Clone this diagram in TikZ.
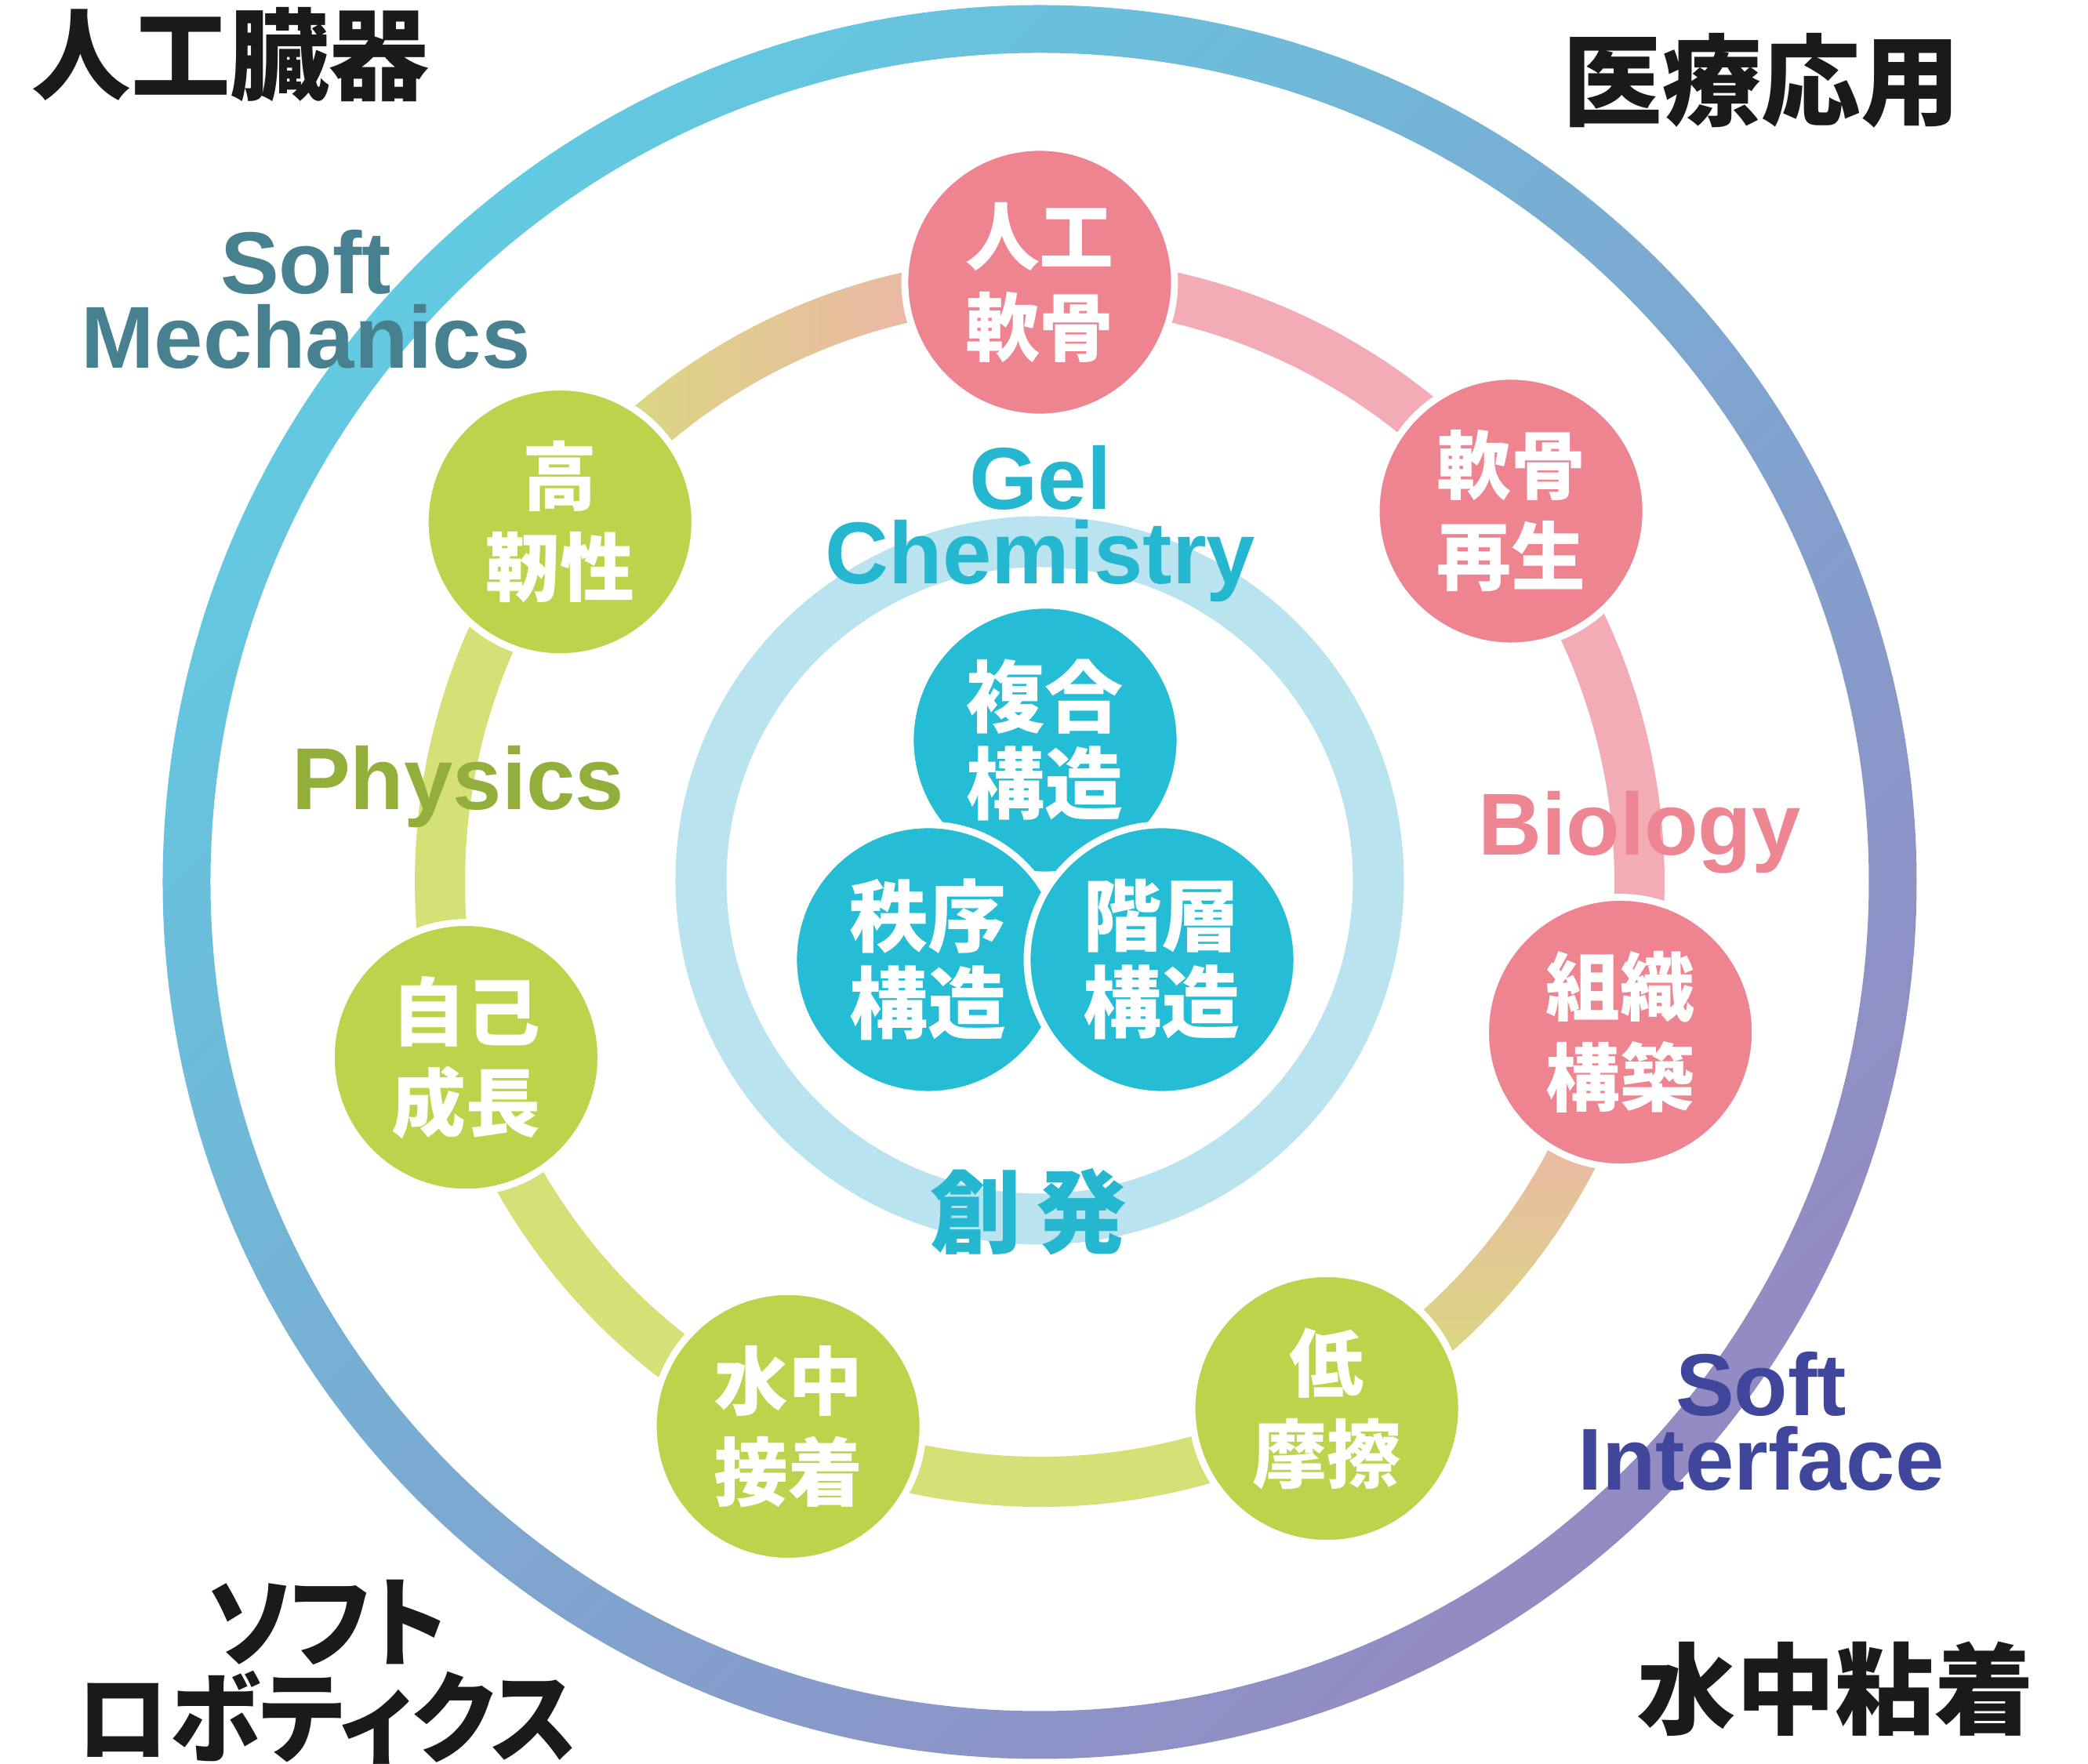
\documentclass[tikz,border=0pt]{standalone}
\usepackage{fontspec}
\usetikzlibrary{backgrounds}

\newfontfamily\jpfont{Noto Sans CJK JP}
\newfontfamily\jppfont{Noto Sans CJK JP}[RawFeature={+palt}]
\newfontfamily\jpkfont{Noto Sans CJK JP}[RawFeature={+palt}, FakeStretch=0.92]
\newfontfamily\enfont{Liberation Sans}

\definecolor{ringcyan}{HTML}{62CAE1}
\definecolor{ringpurple}{HTML}{948AC2}
\definecolor{nodepink}{HTML}{EE8490}
\definecolor{bandpink}{HTML}{F3ABB6}
\definecolor{nodegreen}{HTML}{BDD34B}
\definecolor{bandgreen}{HTML}{D5E077}
\definecolor{gelteal}{HTML}{24BDD5}
\definecolor{gelring}{HTML}{B9E3EF}
\definecolor{geltext}{HTML}{25B6D0}
\definecolor{mechtext}{HTML}{47818F}
\definecolor{phystext}{HTML}{93AF3B}
\definecolor{biotext}{HTML}{EE8593}
\definecolor{intftext}{HTML}{3F469C}
\definecolor{inkblack}{HTML}{1A1A1A}

\tikzset{
  dot/.style={circle, draw=white, line width=2.5pt, minimum size=3.44cm,
    inner sep=0pt, text=white, align=center},
  pinkdot/.style={dot, fill=nodepink, font=\jpfont\bfseries\fontsize{27}{33}\selectfont},
  greendot/.style={dot, fill=nodegreen, font=\jpfont\bfseries\fontsize{27}{33}\selectfont},
  geldot/.style={dot, fill=gelteal, font=\jpfont\bfseries\fontsize{28.5}{31.6}\selectfont},
  band/.style={line width=18.2pt},
  field/.style={font=\enfont\bfseries\fontsize{31.9}{27}\selectfont, align=center},
  corner/.style={text=inkblack, font=\jppfont\bfseries\fontsize{36}{34.7}\selectfont, align=center}
}

\begin{document}
\begin{tikzpicture}
\useasboundingbox (-13.26,-11.25) rectangle (13.37,11.25);

% outer ring and gel ring
\shade[left color=ringcyan, right color=ringpurple, shading angle=45, even odd rule]
  (0,0) circle (11.185) (0,0) circle (10.575);
\draw[gelring, line width=18.5pt] (0,0.02) circle (4.32);

% seven topics on the middle ring
\node[pinkdot] (rk) at (90:7.65) {人工\\軟骨};
\node[pinkdot] (nsk) at (38.2:7.65) {軟骨\\再生};
\node[pinkdot] (sk) at (-14.5:7.65) {組織\\構築};
\node[greendot] (tm) at (-61.4:7.65) {低\\摩擦};
\node[greendot] (sc) at (-114.8:7.65) {水中\\接着};
\node[greendot] (jg) at (197:7.65) {自己\\成長};
\node[greendot] (kj) at (143.1:7.65) {高\\靭性};

\begin{pgfonlayer}{background}
\draw[band, bandpink] (rk.center) arc[start angle=90, end angle=-14.5, radius=7.65];
\draw[band, bandgreen] (tm.center) arc[start angle=-61.4, end angle=-216.9, radius=7.65];
\shade[top color=bandpink, bottom color=bandgreen]
  (sk.center) ++(-14.5:-0.32) arc[start angle=-14.5, end angle=-61.4, radius=7.33]
  -- ++(-61.4:0.64) arc[start angle=-61.4, end angle=-14.5, radius=7.97] -- cycle;
\shade[left color=bandgreen, right color=bandpink]
  (kj.center) ++(143.1:-0.32) arc[start angle=143.1, end angle=90, radius=7.33]
  -- ++(0,0.64) arc[start angle=90, end angle=143.1, radius=7.97] -- cycle;
\end{pgfonlayer}

% gel chemistry core
\node[geldot] (fk) at (0.07,1.81) {複合\\構造};
\node[geldot] (cj) at (-1.42,-0.99) {秩序\\構造};
\node[geldot] (ks) at (1.56,-0.99) {階層\\構造};

% field labels
\node[field, text=mechtext] (mech) at (-9.36,7.43) {Soft\\Mechanics};
\node[field, text=geltext] (gel) at (0.01,4.57) {Gel\\Chemistry};
\node[field, text=phystext, anchor=base] (phys) at (-7.42,0.92) {Physics};
\node[field, text=biotext, anchor=base] (bio) at (7.65,0.34) {Biology};
\node[field, text=intftext] (intf) at (9.20,-6.88) {Soft\\Interface};
\node[text=geltext, font=\jpfont\bfseries\fontsize{33}{33}\selectfont] (sohatsu) at (-0.14,-4.21)
  {創\hspace{0.17em}発};

% applications
\node[corner] (organ) at (-10.32,10.55) {人工臓器};
\node[corner] (medical) at (9.21,10.22) {医療応用};
\node[corner, font=\jpkfont\bfseries\fontsize{36}{34.7}\selectfont] (robot) at (-9.09,-10.08) {ソフト\\ロボティクス};
\node[corner] (adhesion) at (10.15,-10.29) {水中粘着};
\end{tikzpicture}
\end{document}
